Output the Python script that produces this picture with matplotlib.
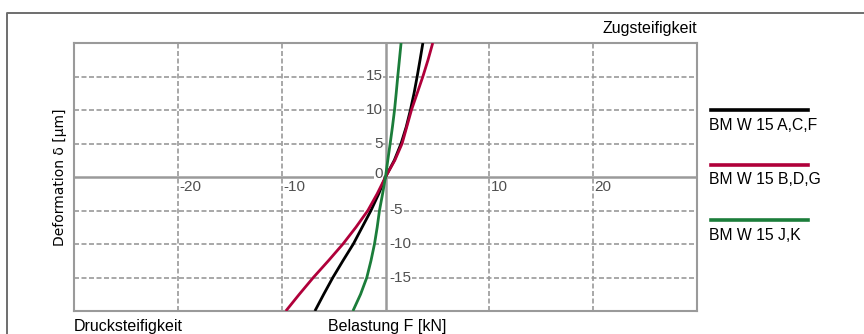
import numpy as np
import matplotlib
matplotlib.use("Agg")
import matplotlib.pyplot as plt
from matplotlib.lines import Line2D

plt.rcParams['font.family'] = ['Liberation Sans', 'DejaVu Sans']

# deformation values (um) and read-off load (kN) per series
delta = [-20, -17.5, -15, -12.5, -10, -7.5, -5, -2.5, 0, 2.5, 5, 7.5, 10, 12.5, 15, 17.5, 20]
f_acf = [-6.8, -5.95, -5.07, -4.1, -3.1, -2.25, -1.4, -0.65, 0, 0.85, 1.5, 2.0, 2.4, 2.75, 3.05, 3.33, 3.6]
f_bdg = [-9.6, -8.3, -6.95, -5.5, -4.1, -2.85, -1.7, -0.8, 0, 0.9, 1.6, 2.05, 2.5, 3.05, 3.6, 4.1, 4.55]
f_jk = [-3.14, -2.4, -1.8, -1.4, -1.06, -0.8, -0.58, -0.28, 0, 0.22, 0.45, 0.67, 0.87, 1.03, 1.18, 1.34, 1.5]

series_names = ['BM W 15 A,C,F', 'BM W 15 B,D,G', 'BM W 15 J,K']
series_colors = ['#000000', '#b0003a', '#1b7d3a']

x_ticks = [-20, -10, 10, 20]
y_ticks = [-15, -10, -5, 5, 10, 15]

W, H = 864, 334
fig = plt.figure(figsize=(W / 100, H / 100), dpi=100)

# outer frame (top + left edge only visible)
fig.add_artist(Line2D([7 / W, 7 / W, 1], [0, 1 - 13 / H, 1 - 13 / H],
                      transform=fig.transFigure, color='#6e6e6e', lw=1.4))

ax = fig.add_axes([74 / W, (H - 311) / H, (697 - 74) / W, (311 - 43) / H])
ax.set_xlim(-30, 30)
ax.set_ylim(-20, 20)
ax.set_xticks([])
ax.set_yticks([])
for s in ax.spines.values():
    s.set_color('#9a9a9a')
    s.set_linewidth(1.5)

gkw = dict(color='#9a9a9a', lw=1.2, ls=(0, (3, 1.5)), zorder=1)
for x in x_ticks:
    ax.axvline(x, **gkw)
for y in y_ticks:
    ax.axhline(y, **gkw)
ax.axhline(0, color='#9a9a9a', lw=1.8, zorder=1)
ax.axvline(0, color='#9a9a9a', lw=1.8, zorder=1)

# tick labels along the zero axes
tkw = dict(fontsize=11, color='#505050', zorder=2,
           bbox=dict(facecolor='white', edgecolor='none', pad=0.3))
for x in x_ticks:
    ax.text(x + 0.15, -0.5, f'{x}', ha='left', va='top', **tkw)
for y in y_ticks:
    if y > 0:
        ax.text(-0.25, y, f'{y}', ha='right', va='center', **tkw)
    else:
        ax.text(0.35, y, f'{y}', ha='left', va='center', **tkw)
ax.text(-0.25, 0.4, '0', ha='right', va='center', **tkw)

for f, name, c in zip([f_acf, f_bdg, f_jk], series_names, series_colors):
    ax.plot(f, delta, color=c, lw=2, zorder=3, solid_capstyle='butt')

# axis captions
fig.text(697 / W, 1 - 28 / H, 'Zugsteifigkeit', ha='right', va='center', fontsize=11.5)
fig.text(74 / W, 1 - 326 / H, 'Drucksteifigkeit', ha='left', va='center', fontsize=11.5)
fig.text(387 / W, 1 - 326 / H, 'Belastung F [kN]', ha='center', va='center', fontsize=11.5)
fig.text(60 / W, 1 - 177 / H, 'Deformation δ [µm]', ha='center', va='center',
         rotation=90, fontsize=10, family=['DejaVu Sans'])

# legend drawn by hand
for i, (name, c) in enumerate(zip(series_names, series_colors)):
    ly = 110 + i * 55
    fig.add_artist(Line2D([711 / W, 808 / W], [1 - ly / H, 1 - ly / H],
                          transform=fig.transFigure, color=c, lw=2.6))
    fig.text(709 / W, 1 - (ly + 15) / H, name, ha='left', va='center', fontsize=11.3)

fig.savefig('out.png', dpi=100)
